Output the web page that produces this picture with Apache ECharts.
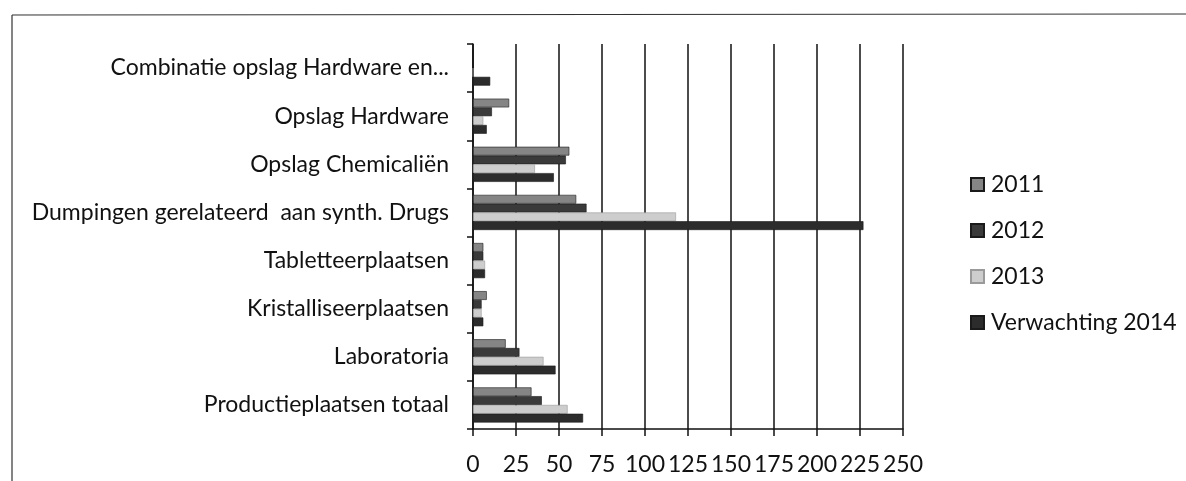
<!DOCTYPE html>
<html>
<head>
<meta charset="utf-8">
<script src="https://cdn.jsdelivr.net/npm/echarts@6/dist/echarts.min.js"></script>
<style>
  html, body { margin: 0; padding: 0; background: #fff; }
  #chart { width: 1186px; height: 481px; }
</style>
</head>
<body>
<div id="chart"></div>
<script>
// categories from bottom to top, as in the picture
var categories = [
    'Productieplaatsen totaal',
    'Laboratoria',
    'Kristalliseerplaatsen',
    'Tabletteerplaatsen',
    'Dumpingen gerelateerd  aan synth. Drugs',
    'Opslag Chemicaliën',
    'Opslag Hardware',
    'Combinatie opslag Hardware en...'
];
var years = ['2011', '2012', '2013', 'Verwachting 2014'];

var data2011 = [34, 19, 8, 6, 60, 56, 21, 0];
var data2012 = [40, 27, 5, 6, 66, 54, 11, 0];
var data2013 = [55, 41, 5, 7, 118, 36, 6, 0];
var data2014 = [64, 48, 6, 7, 227, 47, 8, 10];

var xTicks = [0, 25, 50, 75, 100, 125, 150, 175, 200, 225, 250];

var colors = ['#858585', '#3a3a3a', '#cdcdcd', '#2c2c2c'];
var font = 'Lato, "Open Sans", sans-serif';

var myChart = echarts.init(document.getElementById('chart'));

function barSeries(name, data, i) {
    return {
        name: name,
        type: 'bar',
        data: data,
        barGap: '0%',
        barCategoryGap: '27%',
        itemStyle: {
            color: colors[i],
            borderColor: i == 2 ? '#9a9a9a' : '#1a1a1a',
            borderWidth: 0.6
        }
    }
}

var option = {
    animation: false,
    textStyle: { fontFamily: font },
    grid: { left: 473, right: 283, top: 44, bottom: 52 },
    legend: {
        orient: 'vertical',
        left: 965,
        top: 168,
        itemWidth: 13,
        itemHeight: 13,
        itemGap: 23,
        icon: 'rect',
        textStyle: { fontSize: 23, color: '#111', fontFamily: font, padding: [0, 0, 0, 2] },
        data: years
    },
    xAxis: {
        type: 'value',
        min: xTicks[0],
        max: xTicks[xTicks.length - 1],
        interval: 25,
        axisLine: { show: true, lineStyle: { color: '#111', width: 1.5 } },
        axisTick: { show: true, length: 7, lineStyle: { color: '#111', width: 1.5 } },
        axisLabel: { fontSize: 23, color: '#111', margin: 24, fontFamily: font },
        splitLine: { show: true, lineStyle: { color: '#111', width: 1.5 } }
    },
    yAxis: {
        type: 'category',
        data: categories,
        axisLine: { show: true, lineStyle: { color: '#111', width: 1.5 } },
        axisTick: { show: true, length: 6, lineStyle: { color: '#111', width: 1.5 } },
        axisLabel: { fontSize: 23, color: '#111', margin: 24, fontFamily: font }
    },
    graphic: [
        { type: 'line', shape: { x1: 12, y1: 15, x2: 1186, y2: 14 }, style: { stroke: '#333', lineWidth: 1.2 } },
        { type: 'line', shape: { x1: 12, y1: 15, x2: 12, y2: 481 }, style: { stroke: '#333', lineWidth: 1.2 } }
    ],
    series: [
        barSeries(years[0], data2011, 0),
        barSeries(years[1], data2012, 1),
        barSeries(years[2], data2013, 2),
        barSeries(years[3], data2014, 3)
    ]
};

myChart.setOption(option);
</script>
</body>
</html>
